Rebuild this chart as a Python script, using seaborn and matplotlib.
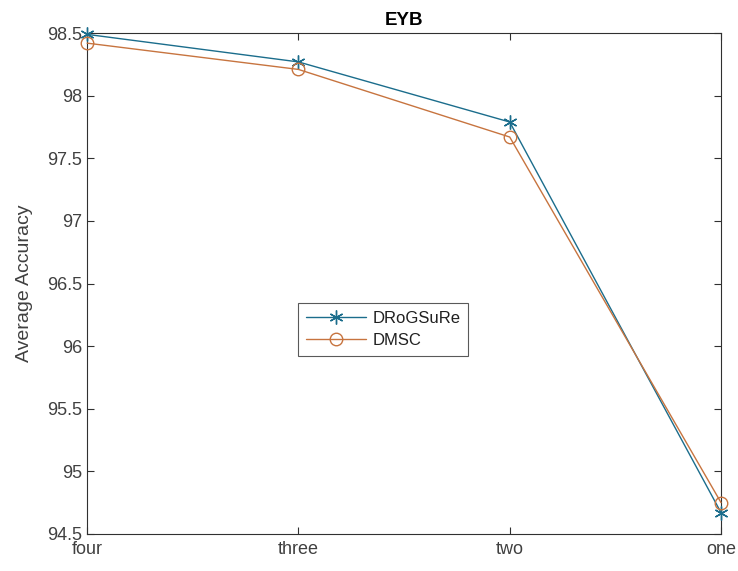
import matplotlib
matplotlib.use("Agg")
import matplotlib.pyplot as plt
import seaborn as sns
import pandas as pd

categories = ["four", "three", "two", "one"]
drogsure = [98.49, 98.27, 97.79, 94.67]
dmsc = [98.42, 98.21, 97.67, 94.75]
y_ticks = [94.5, 95, 95.5, 96, 96.5, 97, 97.5, 98, 98.5]
y_tick_labels = ["94.5", "95", "95.5", "96", "96.5", "97", "97.5", "98", "98.5"]

sns.set_theme(style="white")
plt.rcParams["font.family"] = ["Liberation Sans", "DejaVu Sans"]

pos = list(range(len(categories)))
df_a = pd.DataFrame({"pos": pos, "acc": drogsure})
df_b = pd.DataFrame({"pos": pos, "acc": dmsc})

fig = plt.figure(figsize=(7.38, 5.71), dpi=100)
ax = fig.add_axes([0.118, 0.065, 0.859, 0.877])

blue = "#1b6d8c"
orange = "#c7743f"
sns.lineplot(data=df_a, x="pos", y="acc", ax=ax, color=blue, linewidth=1.0,
             marker=(6, 2, 0), markersize=10, markeredgecolor=blue,
             markeredgewidth=1.0, label="DRoGSuRe", clip_on=False, zorder=3)
sns.lineplot(data=df_b, x="pos", y="acc", ax=ax, color=orange, linewidth=1.0,
             marker="o", markersize=9, markeredgecolor=orange,
             markerfacecolor="none", markeredgewidth=1.0, label="DMSC",
             clip_on=False, zorder=3)

ax.set_xlim(0, len(categories) - 1)
ax.set_ylim(94.5, 98.5)
ax.set_xticks(pos)
ax.set_xticklabels(categories)
ax.set_yticks(y_ticks)
ax.set_yticklabels(y_tick_labels)
ax.set_xlabel("")
ax.set_ylabel("Average Accuracy", fontsize=14, color="#404040", labelpad=10)
ax.set_title("EYB", fontsize=13.5, fontweight="bold", color="#000000", pad=6)

for s in ax.spines.values():
    s.set_color("#303030")
    s.set_linewidth(0.8)
ax.tick_params(direction="in", length=5, width=0.8, colors="#303030",
               labelsize=13, top=True, right=True, left=True, bottom=True,
               labelcolor="#404040")
ax.tick_params(axis="x", pad=5)

handles, labels = ax.get_legend_handles_labels()
leg = ax.legend(handles, labels, loc="upper left",
                bbox_to_anchor=(0.333, 0.461), borderaxespad=0,
                frameon=True, fontsize=12,
                fancybox=False, edgecolor="#303030", handlelength=3.6,
                handletextpad=0.4, borderpad=0.45, labelspacing=0.45)
leg.get_frame().set_linewidth(0.8)
for t in leg.get_texts():
    t.set_color("#202020")
for h in leg.legend_handles:
    h.set_markerfacecolor("none")

fig.savefig("out.png", dpi=100)
